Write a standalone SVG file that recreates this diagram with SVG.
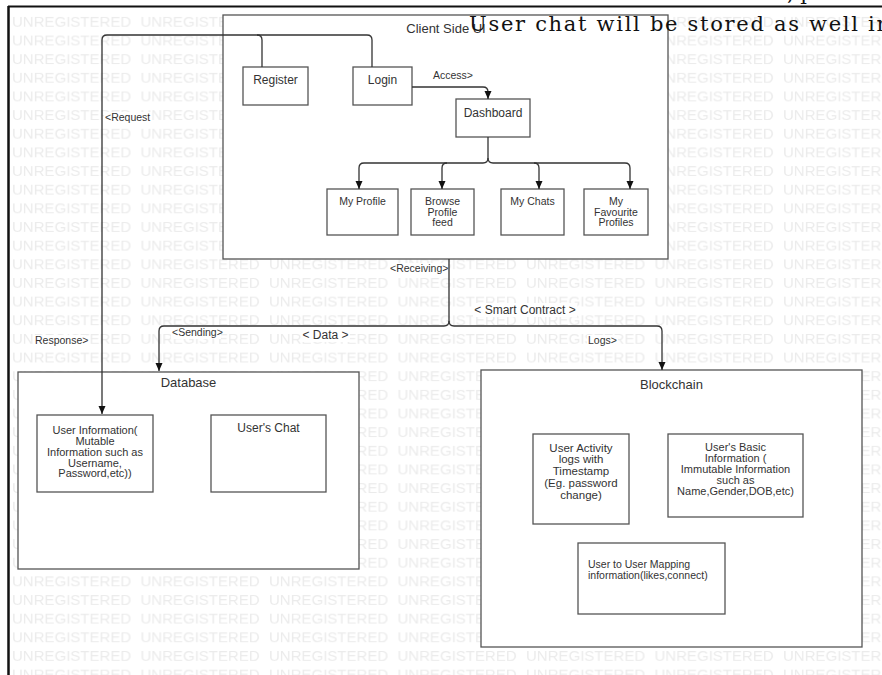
<svg xmlns="http://www.w3.org/2000/svg" width="882" height="675" viewBox="0 0 882 675">
<style>
.box{fill:#fff;stroke:#555;stroke-width:1.3}
.conn{fill:none;stroke:#333;stroke-width:1.3}
.t{font-family:"Liberation Sans",Arial,sans-serif;fill:#333;text-anchor:middle}
.lbl{font-family:"Liberation Sans",Arial,sans-serif;fill:#333;font-size:10.5px}
.bg{fill:#fff}
.f12{font-size:12px}
.f13{font-size:13px}
.f11{font-size:11px}
.f115{font-size:11.5px}
.f105{font-size:10.5px}
</style>
<defs>
<marker id="ah" markerUnits="userSpaceOnUse" markerWidth="9" markerHeight="8" refX="8" refY="3.5" orient="auto">
<path d="M0,0 L8,3.5 L0,7 Z" fill="#111"/>
</marker>
<pattern id="wm" patternUnits="userSpaceOnUse" x="12" y="13" width="128.5" height="18.65">
<text x="0" y="14" font-family="Liberation Sans, Arial, sans-serif" font-size="15" fill="#ebebeb">UNREGISTERED</text>
</pattern>
</defs>
<rect x="0" y="0" width="882" height="675" fill="#fff"/>
<rect x="10" y="8" width="872" height="667" fill="url(#wm)"/>
<g id="frame">
<line x1="8" y1="6.5" x2="882" y2="6.5" stroke="#111" stroke-width="2"/>
<line x1="8.5" y1="6" x2="8.5" y2="675" stroke="#111" stroke-width="2.5"/>
</g>
<g id="client-side">
<rect class="box" x="223" y="15" width="445" height="244"/>
<text class="t f13" x="446" y="33">Client Side UI</text>
</g>
<g id="register"><rect class="box" x="243" y="67" width="65" height="38"/><text class="t f12" x="275.5" y="84">Register</text></g>
<g id="login"><rect class="box" x="353" y="67" width="59" height="38"/><text class="t f12" x="382.5" y="84">Login</text></g>
<g id="dashboard"><rect class="box" x="456" y="99" width="74" height="38"/><text class="t f12" x="493" y="117">Dashboard</text></g>
<g id="my-profile"><rect class="box" x="327" y="189" width="71" height="46"/><text class="t f105" x="362.5" y="205">My Profile</text></g>
<g id="browse"><rect class="box" x="411" y="189" width="63" height="46"/><text class="t f105" x="442.5" y="205">Browse<tspan x="442.5" y="215.5">Profile</tspan><tspan x="442.5" y="226">feed</tspan></text></g>
<g id="my-chats"><rect class="box" x="501" y="189" width="63" height="46"/><text class="t f105" x="532.5" y="205">My Chats</text></g>
<g id="favourites"><rect class="box" x="584" y="189" width="64" height="46"/><text class="t f105" x="616" y="205">My<tspan x="616" y="215.5">Favourite</tspan><tspan x="616" y="226">Profiles</tspan></text></g>
<g id="database">
<rect class="box" x="18" y="372" width="341" height="197"/>
<text class="t f13" x="188.5" y="387">Database</text>
</g>
<g id="user-information"><rect class="box" x="37" y="415" width="116" height="77"/><text class="t f11" x="95" y="434">User Information(<tspan x="95" y="445">Mutable</tspan><tspan x="95" y="456">Information such as</tspan><tspan x="95" y="466.5">Username,</tspan><tspan x="95" y="477">Password,etc))</tspan></text></g>
<g id="users-chat"><rect class="box" x="211" y="415" width="115" height="77"/><text class="t f12" x="268.5" y="432">User's Chat</text></g>
<g id="blockchain">
<rect class="box" x="481" y="370" width="381" height="277"/>
<text class="t f13" x="671.5" y="389">Blockchain</text>
</g>
<g id="user-activity"><rect class="box" x="533" y="434" width="96" height="90"/><text class="t f115" x="581" y="451.5">User Activity<tspan x="581" y="463.3">logs with</tspan><tspan x="581" y="475.1">Timestamp</tspan><tspan x="581" y="486.9">(Eg. password</tspan><tspan x="581" y="498.7">change)</tspan></text></g>
<g id="basic-info"><rect class="box" x="668" y="434" width="135" height="83"/><text class="t f11" x="735.5" y="451">User's Basic<tspan x="735.5" y="462">Information (</tspan><tspan x="735.5" y="473">Immutable Information</tspan><tspan x="735.5" y="484">such as</tspan><tspan x="735.5" y="495">Name,Gender,DOB,etc)</tspan></text></g>
<g id="user-mapping"><rect class="box" x="578" y="543" width="147" height="71"/><text class="lbl" x="588" y="568">User to User Mapping<tspan x="588" y="579">information(likes,connect)</tspan></text></g>
<g id="connectors">
<path class="conn" marker-end="url(#ah)" d="M372,67 V40 Q372,35 367,35 H107 Q102,35 102,40 V414"/>
<path class="conn" d="M262,67 V40 Q262,35 257,35"/>
<path class="conn" marker-end="url(#ah)" d="M412,87 H483 Q488,87 488,92 V99"/>
<path class="conn" marker-end="url(#ah)" d="M488,137 V158 Q488,163 483,163 H364 Q359,163 359,168 V189"/>
<path class="conn" marker-end="url(#ah)" d="M447,163 Q442,163 442,168 V189"/>
<path class="conn" marker-end="url(#ah)" d="M488,158 Q488,163 493,163 H625 Q630,163 630,168 V189"/>
<path class="conn" marker-end="url(#ah)" d="M534,163 Q539,163 539,168 V189"/>
<path class="conn" marker-end="url(#ah)" d="M449,259 V321 Q449,326 444,326 H164 Q159,326 159,331 V371"/>
<path class="conn" marker-end="url(#ah)" d="M449,321 Q449,326 454,326 H657 Q662,326 662,331 V370"/>
</g>
<g id="labels">
<rect class="bg" x="104" y="112" width="47" height="12"/><text class="lbl" x="105" y="121">&lt;Request</text>
<rect class="bg" x="432" y="70" width="44" height="12"/><text class="lbl" x="433" y="79">Access&gt;</text>
<rect class="bg" x="389" y="263" width="59" height="12"/><text class="lbl" x="390" y="272">&lt;Receiving&gt;</text>
<rect class="bg" x="34" y="335" width="52" height="12"/><text class="lbl" x="35" y="344">Response&gt;</text>
<rect class="bg" x="171" y="327" width="50" height="12"/><text class="lbl" x="172" y="336">&lt;Sending&gt;</text>
<rect class="bg" x="301" y="328" width="49" height="14"/><text class="t f12" x="325.5" y="339">&lt; Data &gt;</text>
<rect class="bg" x="473" y="303" width="104" height="14"/><text class="t f12" x="525" y="314">&lt; Smart Contract &gt;</text>
<rect class="bg" x="587" y="335" width="31" height="12"/><text class="lbl" x="588" y="344">Logs&gt;</text>
</g>
<g id="page-text" font-family="'DejaVu Serif','Liberation Serif',serif" fill="#111">
<text x="787" y="0" font-size="21">, p</text>
<text x="469" y="30.5" font-size="21" textLength="421" lengthAdjust="spacing">User chat will be stored as well in</text>
</g>
</svg>
